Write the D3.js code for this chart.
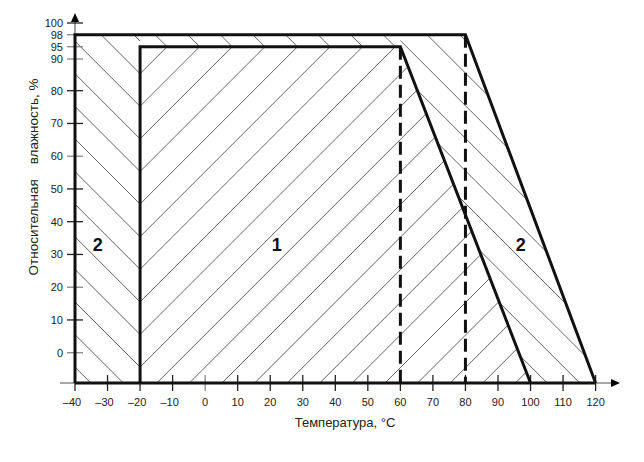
<!DOCTYPE html>
<html><head><meta charset="utf-8">
<script src="https://cdn.jsdelivr.net/npm/d3@7"></script>
<style>body{margin:0;background:#fff}svg{display:block}</style>
</head><body>
<script>
// ---- data ----
const xTicks = [-40,-30,-20,-10,0,10,20,30,40,50,60,70,80,90,100,110,120];
const yTicks = [0,10,20,30,40,50,60,70,80,90,95,98,100];
const yTickLabels = ["0","10","20","30","40","50","60","70","80","90","95","98","100"];
const HUM_BASE = -9.3; // humidity at axis baseline (unlabelled)
// zone outlines: [temperature, humidity]
const zone1 = [[-20,HUM_BASE],[-20,95],[60,95],[100,HUM_BASE]];
const zone2 = [[-40,HUM_BASE],[-40,98],[80,98],[120,HUM_BASE]];
const dashedT = [60,80];
const zoneLabels = [{t:-33,h:33,txt:"2"},{t:22,h:33,txt:"1"},{t:97,h:33,txt:"2"}];
const xTitle = "Температура, °С";
const yTitle = "Относительная    влажность, %";

const W=644,H=462;
const svg=d3.select("body").append("svg").attr("width",W).attr("height",H);
const x=d3.scaleLinear().domain([-40,120]).range([75,595.6]);
const y=d3.scaleLinear().domain([HUM_BASE,0,80,90,95,98,100]).range([383,352.7,90.7,59,46.7,34.7,23]);
const base=y(HUM_BASE);
const line=d3.line().x(d=>x(d[0])).y(d=>y(d[1]));

const defs=svg.append("defs");
defs.append("clipPath").attr("id","cz1").append("path").attr("d",line(zone1)+"Z");
defs.append("clipPath").attr("id","cleft").append("rect")
  .attr("x",x(-40)).attr("y",y(98)).attr("width",x(-20)-x(-40)).attr("height",base-y(98));
defs.append("clipPath").attr("id","ctop").append("rect")
  .attr("x",x(-20)).attr("y",y(98)).attr("width",x(60)-x(-20)).attr("height",y(95)-y(98));
defs.append("clipPath").attr("id","cright").append("path")
  .attr("d",line([[60,98],[80,98],[120,HUM_BASE],[100,HUM_BASE],[60,95]])+"Z");

const s=32.6, cx=x(-20), cy=y(95);
function hatch(clip, dir, phase){
  const g=svg.append("g").attr("clip-path",`url(#${clip})`)
    .attr("stroke","#3a3a3a").attr("stroke-width",0.8);
  for(let k=-40;k<40;k++){
    const c=phase+k*s;
    if(dir==="/") g.append("line").attr("x1",c-700).attr("y1",700).attr("x2",c).attr("y2",0);
    else g.append("line").attr("x1",-100).attr("y1",c-100).attr("x2",800).attr("y2",c+800);
  }
}
hatch("cz1","/",cx+cy+27);
hatch("cleft","\\",(cy+27)-cx);
hatch("cright","\\",(cy+27)-cx);
hatch("ctop","\\",cy-(cx+27));

// axes (gray)
svg.append("line").attr("x1",60).attr("x2",614).attr("y1",base).attr("y2",base).attr("stroke","#8a8a8a").attr("stroke-width",1.6);
svg.append("line").attr("x1",x(-40)).attr("x2",x(-40)).attr("y1",base).attr("y2",20).attr("stroke","#8a8a8a").attr("stroke-width",1.6);
svg.append("path").attr("d",`M${x(-40)-4},22 L${x(-40)},13 L${x(-40)+4},22Z`).attr("fill","#000");
svg.append("path").attr("d",`M611,${base-4} L620,${base} L611,${base+4}Z`).attr("fill","#000");

// ticks
const grayX=new Set([0]);
svg.append("g").selectAll("line").data(xTicks).join("line")
  .attr("x1",d=>x(d)).attr("x2",d=>x(d)).attr("y1",base-8).attr("y2",base+8)
  .attr("stroke",d=>grayX.has(d)?"#888":"#222").attr("stroke-width",1.3);
const grayY=new Set([0,20,60,90,95,98]);
svg.append("g").selectAll("line").data(yTicks).join("line")
  .attr("x1",x(-40)-8).attr("x2",x(-40)+8).attr("y1",d=>y(d)).attr("y2",d=>y(d))
  .attr("stroke",d=>grayY.has(d)?"#888":"#222").attr("stroke-width",1.3);

// dashed lines
svg.append("g").selectAll("line").data(dashedT).join("line")
  .attr("x1",d=>x(d)).attr("x2",d=>x(d))
  .attr("y1",d=>d===60?y(95):y(98)).attr("y2",base)
  .attr("stroke","#111").attr("stroke-width",3).attr("stroke-dasharray","13,6");

// thick borders
svg.append("path").attr("d",line(zone2)).attr("fill","none").attr("stroke","#111").attr("stroke-width",3).attr("stroke-linejoin","miter");
svg.append("path").attr("d",line(zone1)).attr("fill","none").attr("stroke","#111").attr("stroke-width",3).attr("stroke-linejoin","miter");
svg.append("line").attr("x1",x(-40)).attr("x2",x(120)).attr("y1",base).attr("y2",base).attr("stroke","#111").attr("stroke-width",3);

// tick labels
const font="Arial, 'Liberation Sans', sans-serif";
svg.append("g").selectAll("text").data(xTicks).join("text")
  .attr("x",d=>x(d)-(d<0?3:0)).attr("y",406).attr("text-anchor","middle")
  .attr("font-family",font).attr("font-size",11).attr("fill","#222")
  .text(d=>d<0?"–"+Math.abs(d):String(d));
svg.append("g").selectAll("text").data(yTicks).join("text")
  .attr("x",63).attr("y",d=>y(d)+4).attr("text-anchor","end")
  .attr("font-family",font).attr("font-size",11).attr("fill","#222")
  .text((d,i)=>yTickLabels[i]);

// zone labels
svg.append("g").selectAll("text").data(zoneLabels).join("text")
  .attr("x",d=>x(d.t)).attr("y",d=>y(d.h)+6).attr("text-anchor","middle")
  .attr("font-family",font).attr("font-size",18).attr("font-weight","bold").attr("fill","#111")
  .text(d=>d.txt);

// titles
svg.append("text").attr("x",345).attr("y",427).attr("text-anchor","middle")
  .attr("font-family",font).attr("font-size",13).attr("fill","#222").text(xTitle);
svg.append("text").attr("transform","translate(38,177) rotate(-90)").attr("text-anchor","middle")
  .attr("font-family",font).attr("font-size",13.5).attr("fill","#222")
  .style("white-space","pre").text(yTitle);
</script>
</body></html>
